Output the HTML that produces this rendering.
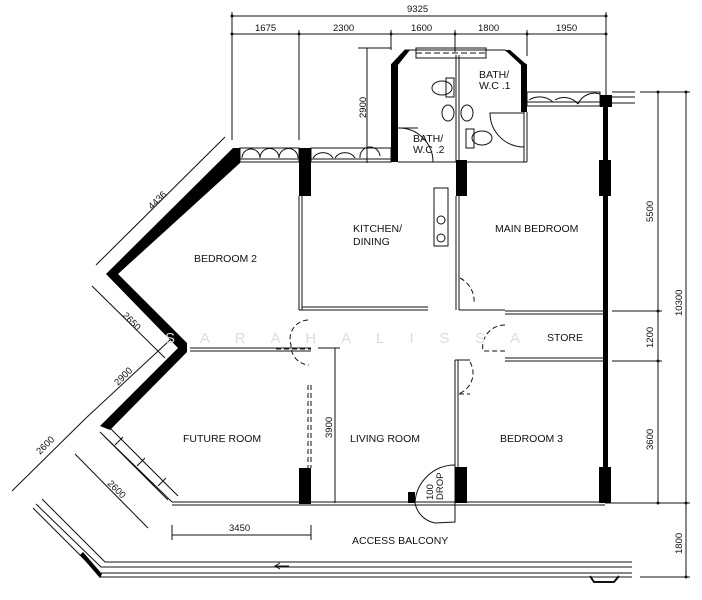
<!DOCTYPE html>
<html><head><meta charset="utf-8"><style>
html,body{margin:0;padding:0;background:#fff;}
svg{display:block}
text{font-family:"Liberation Sans",sans-serif;font-size:10.5px;fill:#111}
.d{font-size:9.5px}
.w{font-size:15px;fill:#ddd;letter-spacing:0}
</style></head><body>
<svg width="702" height="600" viewBox="0 0 702 600" xmlns="http://www.w3.org/2000/svg">
<g stroke="#111" fill="none" stroke-width="1">
<line x1="232" y1="16" x2="606" y2="16"/>
<line x1="232" y1="34" x2="606" y2="34"/>
<line x1="232" y1="12" x2="232" y2="140"/>
<line x1="299" y1="30" x2="299" y2="140"/>
<line x1="391" y1="30" x2="391" y2="50"/>
<line x1="455" y1="30" x2="455" y2="52"/>
<line x1="527" y1="30" x2="527" y2="56"/>
<line x1="606" y1="12" x2="606" y2="95"/>
<line x1="367" y1="48" x2="367" y2="163"/>
<line x1="358" y1="48" x2="391" y2="48"/>
<rect x="240" y="148" width="59" height="14"/>
<line x1="240" y1="159" x2="299" y2="159"/>
<path d="M242 158 a9 9 0 0 1 18 0 M260 158 a9 9 0 0 1 19 0 M279 158 a9 9 0 0 1 19 0"/>
<rect x="311" y="148" width="80" height="14"/>
<line x1="311" y1="159" x2="391" y2="159"/>
<path d="M313 158 a12 12 0 0 1 20 0 M335 158 a12 12 0 0 1 20 0 M360 158 a10 10 0 0 1 20 -2"/>
<path d="M391 65 L405 50 L505 50 L527 65"/>
<rect x="416" y="48" width="70" height="10"/>
<line x1="416" y1="53" x2="486" y2="53" stroke-dasharray="6 3"/>
<line x1="456" y1="55" x2="456" y2="162"/>
<line x1="459" y1="55" x2="459" y2="162"/>
<line x1="398" y1="162" x2="527" y2="162"/>
<line x1="527" y1="112" x2="527" y2="162"/>
<line x1="524" y1="112" x2="524" y2="162"/>
<path d="M398 128 L418 128 M433 162 a34 34 0 0 0 -35 -34"/>
<path d="M524 113 L490 113 a34 34 0 0 0 34 34"/>
<ellipse cx="442" cy="88" rx="10" ry="7"/><rect x="446" y="78" width="8" height="19"/>
<ellipse cx="448" cy="113" rx="6" ry="8"/>
<ellipse cx="467" cy="113" rx="6" ry="8"/>
<ellipse cx="482" cy="138" rx="10" ry="7"/><rect x="466" y="129" width="8" height="19"/>
<rect x="527" y="92" width="73" height="14"/>
<line x1="527" y1="102" x2="600" y2="102"/>
<path d="M529 100 a20 20 0 0 1 24 2 M555 100 a18 18 0 0 1 23 4 M578 104 a18 18 0 0 1 22 -10"/>
<line x1="612" y1="92" x2="635" y2="92"/><line x1="612" y1="103" x2="635" y2="103"/><line x1="612" y1="97" x2="635" y2="97"/>
<line x1="299" y1="196" x2="299" y2="310"/><line x1="302" y1="196" x2="302" y2="310"/>
<line x1="299" y1="310" x2="428" y2="310"/><line x1="302" y1="307" x2="428" y2="307"/>
<line x1="456" y1="196" x2="456" y2="310"/><line x1="459" y1="196" x2="459" y2="310"/>
<line x1="459" y1="310" x2="505" y2="310"/>
<line x1="505" y1="311" x2="605" y2="311"/><line x1="505" y1="314" x2="605" y2="314"/>
<line x1="505" y1="358" x2="605" y2="358"/><line x1="505" y1="361" x2="605" y2="361"/>
<line x1="455" y1="360" x2="455" y2="468"/><line x1="458" y1="360" x2="458" y2="468"/>
<line x1="455" y1="360" x2="470" y2="360"/>
<line x1="190" y1="348" x2="311" y2="348"/><line x1="190" y1="351" x2="311" y2="351"/>
<rect x="434" y="188" width="14" height="58"/>
<circle cx="441" cy="220" r="4"/><circle cx="441" cy="238" r="4"/>
<g stroke-dasharray="5 3">
<path d="M460 278 a26 26 0 0 1 14 26"/>
<path d="M505 325 a22 22 0 0 0 -22 26 L505 351"/>
<path d="M470 362 a22 22 0 0 1 -12 32 L470 394"/>
<path d="M308 320 a19 19 0 0 0 -17 25 a19 19 0 0 0 18 20"/>
<line x1="308" y1="385" x2="308" y2="468"/><line x1="311" y1="385" x2="311" y2="468"/>
<line x1="276" y1="349" x2="311" y2="349"/>
</g>
<path d="M455 465 a40 40 0 0 0 -40 38 a25 25 0 0 0 20 20 L455 522 Z"/>
<line x1="172" y1="502" x2="605" y2="502"/><line x1="172" y1="505" x2="605" y2="505"/>
<path d="M100 432 L172 502 M108 426 L178 496 M104 436 L168 500"/>
<path d="M115 445 l8 -8 M137 466 l8 -8 M158 486 l8 -8"/>
<path d="M42 499 L105 562 L632 562"/>
<path d="M36 504 L101 567 L632 567"/>
<path d="M33 508 L98 573 L632 573"/>
<path d="M100 577 L632 577"/>
<path d="M590 576 l4 6 h20 l5 -6" stroke-width="2"/>
<path d="M275 566 h14 M280 563 l-5 3 l5 3"/>
<line x1="658" y1="92" x2="658" y2="503"/>
<line x1="686" y1="92" x2="686" y2="577"/>
<line x1="640" y1="92" x2="690" y2="92"/>
<line x1="612" y1="311" x2="662" y2="311"/>
<line x1="612" y1="361" x2="662" y2="361"/>
<line x1="605" y1="503" x2="690" y2="503"/>
<line x1="640" y1="577" x2="690" y2="577"/>
<line x1="225" y1="137" x2="96" y2="265"/>
<line x1="92" y1="286" x2="165" y2="358"/>
<line x1="170" y1="340" x2="86" y2="418"/>
<line x1="86" y1="418" x2="12" y2="491"/>
<line x1="75" y1="454" x2="148" y2="528"/>
<line x1="172" y1="525" x2="172" y2="540"/><line x1="311" y1="525" x2="311" y2="540"/>
<line x1="172" y1="535" x2="311" y2="535"/>
<line x1="335" y1="348" x2="335" y2="503"/>
<line x1="318" y1="348" x2="340" y2="348"/>
</g>
<g fill="#000" stroke="none">
<polygon points="233,148 240,148 240,163 118,274 187,343 187,352 110,430 100,426 178,348 106,274"/>
<polygon points="391,65 405,50 410,50 398,65 398,162 391,162"/>
<polygon points="505,50 510,50 527,65 527,112 521,112 521,65"/>
<rect x="299" y="148" width="12" height="48"/>
<rect x="456" y="160" width="11" height="36"/>
<rect x="603" y="103" width="5" height="398"/>
<rect x="600" y="95" width="12" height="12"/>
<rect x="599" y="160" width="12" height="36"/>
<rect x="599" y="467" width="12" height="36"/>
<rect x="455" y="467" width="12" height="36"/>
<rect x="299" y="468" width="12" height="36"/>
<rect x="408" y="492" width="7" height="11"/>
<polygon points="80,555 83,552 102,574 100,578"/>
</g>
<g fill="#111">
<circle cx="232" cy="34" r="1.5"/><circle cx="299" cy="34" r="1.5"/><circle cx="391" cy="34" r="1.5"/><circle cx="455" cy="34" r="1.5"/><circle cx="527" cy="34" r="1.5"/><circle cx="606" cy="34" r="1.5"/><circle cx="232" cy="16" r="1.5"/><circle cx="606" cy="16" r="1.5"/>
<circle cx="658" cy="92" r="1.5"/><circle cx="658" cy="311" r="1.5"/><circle cx="658" cy="361" r="1.5"/><circle cx="658" cy="503" r="1.5"/><circle cx="686" cy="92" r="1.5"/><circle cx="686" cy="503" r="1.5"/><circle cx="686" cy="577" r="1.5"/>
</g>
<text class="d" x="407" y="12">9325</text>
<text class="d" x="255" y="31">1675</text>
<text class="d" x="333" y="31">2300</text>
<text class="d" x="411" y="31">1600</text>
<text class="d" x="478" y="31">1800</text>
<text class="d" x="556" y="31">1950</text>
<text class="d" transform="translate(366,118) rotate(-90)">2900</text>
<text class="d" transform="translate(653,222) rotate(-90)">5500</text>
<text class="d" transform="translate(653,348) rotate(-90)">1200</text>
<text class="d" transform="translate(653,450) rotate(-90)">3600</text>
<text class="d" transform="translate(682,316) rotate(-90)">10300</text>
<text class="d" transform="translate(682,554) rotate(-90)">1800</text>
<text class="d" transform="translate(332,438) rotate(-90)">3900</text>
<text class="d" x="229" y="531">3450</text>
<text class="d" transform="translate(152,210) rotate(-45)">4436</text>
<text class="d" transform="translate(122,316) rotate(45)">2650</text>
<text class="d" transform="translate(118,386) rotate(-45)">2900</text>
<text class="d" transform="translate(40,455) rotate(-45)">2600</text>
<text class="d" transform="translate(107,484) rotate(45)">2600</text>
<text x="194" y="262">BEDROOM 2</text>
<text x="353" y="232">KITCHEN/</text>
<text x="353" y="245">DINING</text>
<text x="495" y="232">MAIN BEDROOM</text>
<text x="547" y="341">STORE</text>
<text x="183" y="442">FUTURE ROOM</text>
<text x="350" y="442">LIVING ROOM</text>
<text x="500" y="442">BEDROOM 3</text>
<text x="352" y="544">ACCESS BALCONY</text>
<text x="479" y="78" font-size="10">BATH/</text>
<text x="479" y="89" font-size="10">W.C .1</text>
<text x="413" y="142" font-size="10">BATH/</text>
<text x="413" y="153" font-size="10">W.C .2</text>
<text class="d" font-size="8" transform="translate(433,500) rotate(-90)">100</text>
<text class="d" font-size="8" transform="translate(443,500) rotate(-90)">DROP</text>
<text class="w" x="165" y="343" textLength="355">S A R A H   A L I S S A</text>
</svg>
</body></html>
